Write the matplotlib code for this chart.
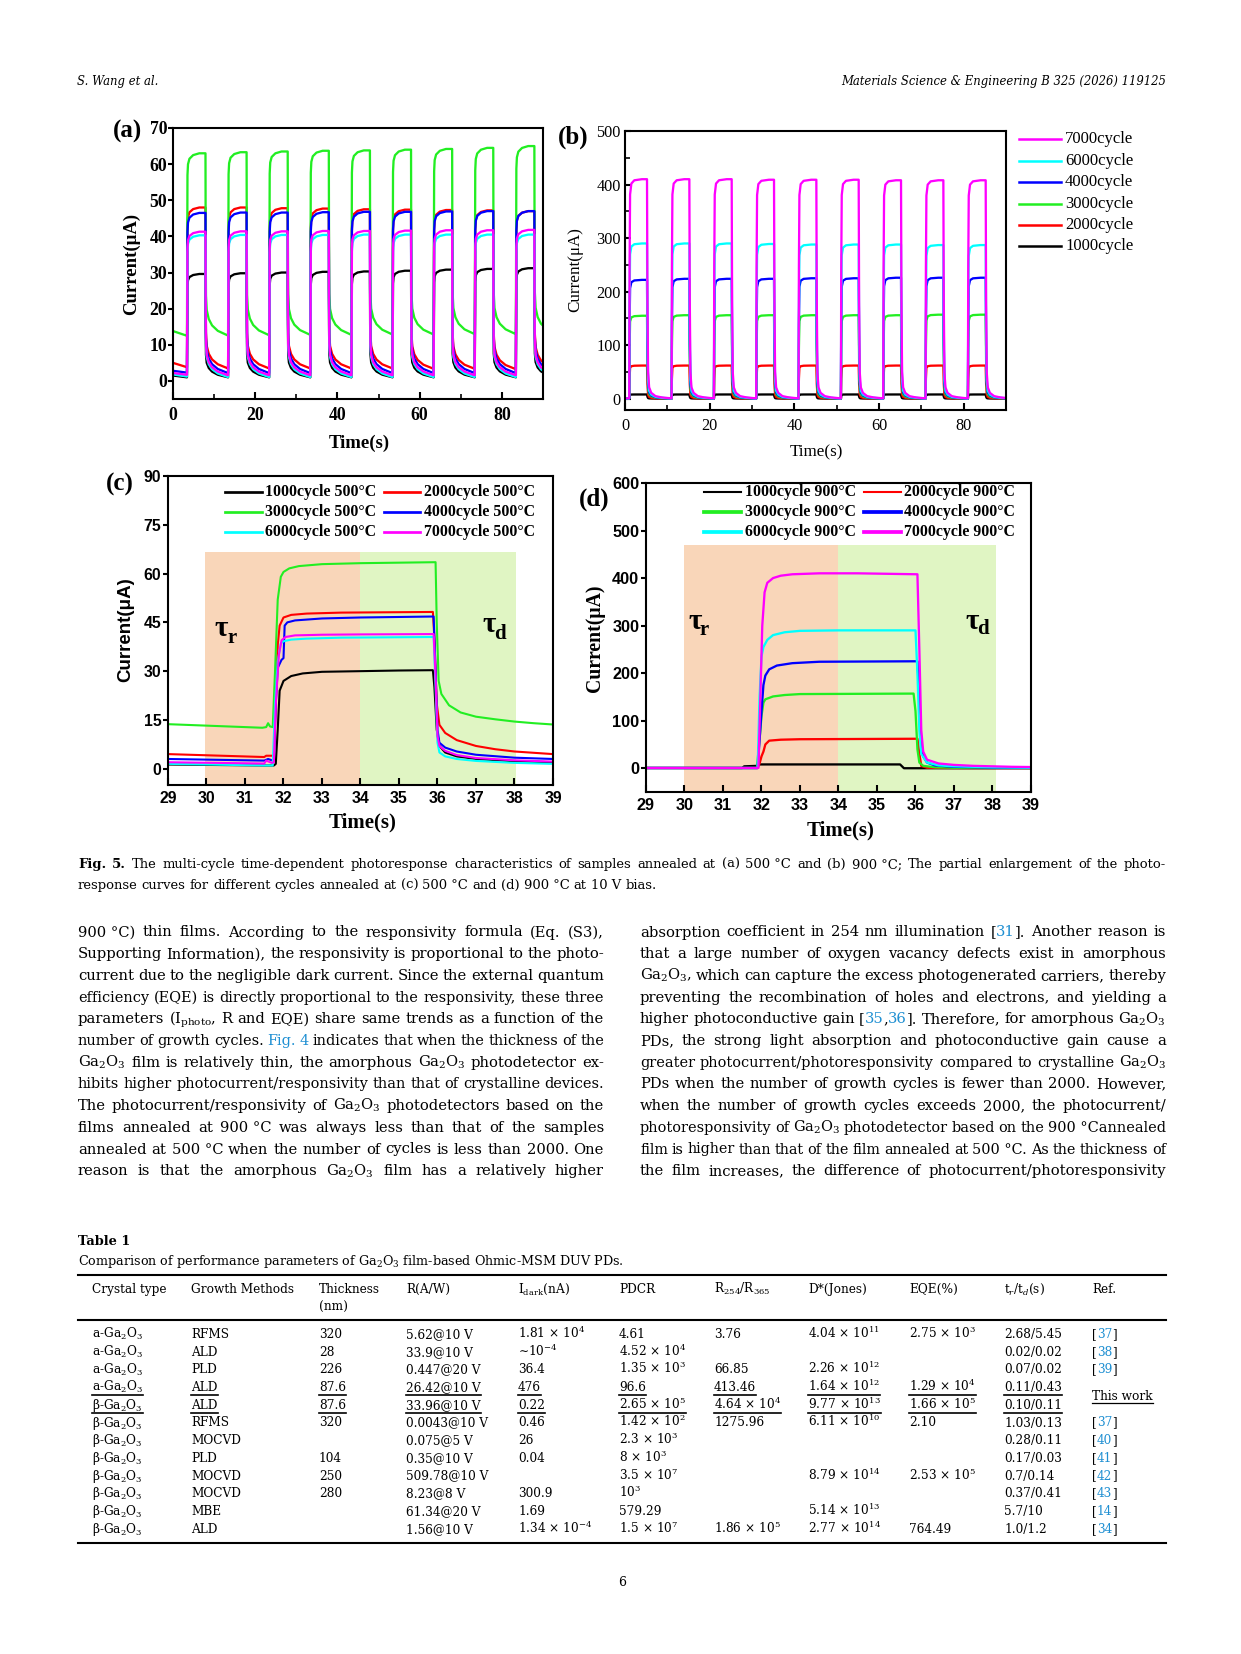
import re
import matplotlib
matplotlib.use('Agg')
import matplotlib.pyplot as plt
from matplotlib.lines import Line2D

plt.rcParams['mathtext.fontset'] = 'dejavuserif'
plt.rcParams['axes.linewidth'] = 1.0

W, H, DPI = 1241, 1654, 150
NB = '\u00a0'

# ============================ DATA ============================
CYCLES = ['1000cycle', '2000cycle', '3000cycle', '4000cycle', '6000cycle', '7000cycle']
COLORS = ['#000000', '#FF0000', '#22EE22', '#0000FF', '#00FFFF', '#FF00FF']

# ---- panel (a): 500 C, multi-cycle ----
A_T_ON = [3.4, 13.4, 23.4, 33.4, 43.4, 53.4, 63.4, 73.4, 83.4]
A_T_OFF = [7.9, 17.9, 27.9, 37.9, 47.9, 57.9, 67.9, 77.9, 87.9]
A_ON_1000 = [29.6, 29.8, 30.0, 30.2, 30.3, 30.5, 30.8, 31.0, 31.2]
A_ON_2000 = [48.0, 48.0, 47.8, 47.7, 47.5, 47.4, 47.3, 47.2, 47.0]
A_ON_3000 = [63.0, 63.3, 63.5, 63.7, 63.8, 64.0, 64.2, 64.5, 65.0]
A_ON_4000 = [46.5, 46.6, 46.6, 46.7, 46.8, 46.8, 46.9, 47.0, 47.0]
A_ON_6000 = [40.3, 40.4, 40.4, 40.4, 40.5, 40.5, 40.5, 40.5, 40.5]
A_ON_7000 = [41.3, 41.4, 41.4, 41.5, 41.5, 41.6, 41.7, 41.7, 41.8]
# start value, dark level before each of 9 pulses, final dark floor
A_DARK_1000 = [1.5, 1.0, 1.0, 1.0, 1.0, 1.0, 1.0, 1.0, 1.0, 1.0, 1.0]
A_DARK_2000 = [5.0, 3.8, 3.5, 3.5, 3.5, 3.5, 3.5, 3.4, 3.4, 3.3, 3.3]
A_DARK_3000 = [13.8, 12.5, 12.6, 12.7, 12.8, 12.8, 12.9, 12.9, 13.0, 13.0, 13.0]
A_DARK_4000 = [2.8, 2.3, 2.2, 2.2, 2.2, 2.2, 2.2, 2.2, 2.2, 2.2, 2.2]
A_DARK_6000 = [1.8, 1.2, 1.1, 1.1, 1.1, 1.1, 1.1, 1.1, 1.1, 1.1, 1.1]
A_DARK_7000 = [2.2, 1.7, 1.6, 1.6, 1.6, 1.6, 1.6, 1.6, 1.6, 1.6, 1.6]
A_RISE_T = [0.0, 0.06, 0.12, 0.25, 0.6, 1.5, 3.0]
A_RISE_F = [0.0, 0.55, 0.88, 0.94, 0.97, 0.99, 1.0]
A_FALL_T = [0.0, 0.05, 0.12, 0.3, 0.8, 1.6, 3.0, 5.4]
A_FALL_F = [1.0, 0.5, 0.22, 0.14, 0.09, 0.055, 0.025, 0.0]

# ---- panel (b): 900 C, multi-cycle ----
B_T_ON = [1.0, 11.0, 21.0, 31.0, 41.0, 51.0, 61.0, 71.0, 81.0]
B_T_OFF = [5.2, 15.2, 25.2, 35.2, 45.2, 55.2, 65.2, 75.2, 85.2]
B_ON_1000 = [8, 8, 8, 8, 8, 8, 8, 8, 8]
B_ON_2000 = [62, 62, 62, 62, 62, 62, 62, 62, 62]
B_ON_3000 = [155, 156, 156, 156, 156, 156, 156, 157, 157]
B_ON_4000 = [222, 224, 224, 224, 225, 225, 226, 226, 226]
B_ON_6000 = [290, 290, 290, 289, 288, 288, 288, 287, 287]
B_ON_7000 = [410, 410, 410, 409, 409, 409, 408, 408, 408]
B_DARK_1000 = [0.3, 0.3, 0.3, 0.3, 0.3, 0.3, 0.3, 0.3, 0.3, 0.3, 0.3]
B_DARK_2000 = [0.3, 0.3, 0.3, 0.3, 0.3, 0.3, 0.3, 0.3, 0.3, 0.3, 0.3]
B_DARK_3000 = [0.4, 0.4, 0.4, 0.4, 0.4, 0.4, 0.4, 0.4, 0.4, 0.4, 0.4]
B_DARK_4000 = [0.5, 0.5, 0.5, 0.5, 0.5, 0.5, 0.5, 0.5, 0.5, 0.5, 0.5]
B_DARK_6000 = [0.6, 0.6, 0.6, 0.6, 0.6, 0.6, 0.6, 0.6, 0.6, 0.6, 0.6]
B_DARK_7000 = [0.8, 0.8, 0.8, 0.8, 0.8, 0.8, 0.8, 0.8, 0.8, 0.8, 0.8]
B_RISE_T = [0.0, 0.08, 0.2, 0.5, 1.2, 3.0]
B_RISE_F = [0.0, 0.6, 0.93, 0.98, 0.995, 1.0]
B_FALL_T = [0.0, 0.1, 0.25, 0.5, 1.0, 2.0, 3.5, 5.7]
B_FALL_F = [1.0, 0.45, 0.12, 0.05, 0.025, 0.01, 0.004, 0.0]

# ---- panel (c): 500 C, single pulse ----
C_T_1000 = [29, 31.5, 31.75, 31.8, 31.85, 31.9, 32.0, 32.2, 32.5, 33.0, 34.0, 35.0, 35.88, 35.92, 35.98, 36.05, 36.2, 36.5, 37.0, 38.0, 39.0]
C_I_1000 = [1.3, 1.0, 1.0, 1.5, 12, 24, 27, 28.5, 29.3, 29.8, 30.0, 30.2, 30.3, 25, 12, 7, 5, 3.8, 3.0, 2.3, 2.0]
C_T_2000 = [29, 31.5, 31.55, 31.75, 31.8, 31.85, 31.9, 32.0, 32.2, 32.6, 33.5, 35.88, 35.92, 35.98, 36.05, 36.2, 36.5, 37.0, 37.5, 38.0, 39.0]
C_I_2000 = [4.5, 3.6, 4.0, 4.0, 20, 38, 44, 46.5, 47.3, 47.7, 48.0, 48.2, 40, 20, 13.5, 11, 8.8, 7.0, 6.0, 5.3, 4.5]
C_T_3000 = [29, 31.45, 31.55, 31.6, 31.65, 31.72, 31.78, 31.85, 31.93, 32.0, 32.15, 32.4, 33.0, 34.0, 35.95, 35.98, 36.03, 36.1, 36.3, 36.6, 37.0, 37.5, 38.0, 38.5, 39.0]
C_I_3000 = [13.7, 12.6, 12.8, 14.0, 13.0, 12.8, 30, 52, 59, 60.5, 61.6, 62.3, 62.9, 63.2, 63.5, 45, 27, 23, 19.5, 17.3, 16.0, 15.2, 14.5, 14.0, 13.6]
C_T_4000 = [29, 31.5, 31.6, 31.7, 31.75, 31.8, 31.85, 31.95, 32.0, 32.03, 32.1, 32.3, 33.0, 34.0, 35.9, 35.95, 36.0, 36.05, 36.2, 36.5, 37.0, 38.0, 39.0]
C_I_4000 = [3.0, 2.5, 3.0, 2.6, 2.8, 20, 31, 33.5, 34.0, 44, 45, 45.6, 46.2, 46.5, 46.8, 30, 12, 8.0, 6.5, 5.3, 4.3, 3.4, 3.0]
C_T_6000 = [29, 31.5, 31.72, 31.78, 31.85, 31.93, 32.0, 32.2, 32.6, 33.5, 35.9, 35.95, 36.0, 36.05, 36.2, 36.5, 37.0, 38.0, 39.0]
C_I_6000 = [1.5, 1.0, 1.0, 20, 33, 38.5, 39.2, 39.7, 40.0, 40.3, 40.5, 25, 8, 5.0, 3.8, 3.0, 2.4, 1.8, 1.5]
C_T_7000 = [29, 31.5, 31.55, 31.7, 31.75, 31.8, 31.88, 31.95, 32.05, 32.3, 33.0, 34.0, 35.9, 35.95, 36.0, 36.05, 36.2, 36.5, 37.0, 38.0, 39.0]
C_I_7000 = [2.0, 1.6, 2.5, 1.8, 2.0, 20, 35, 39.5, 40.5, 41.0, 41.2, 41.3, 41.4, 28, 10, 7.0, 5.5, 4.2, 3.3, 2.6, 2.2]

# ---- panel (d): 900 C, single pulse ----
D_T_1000 = [29, 31.5, 31.55, 31.9, 31.95, 35.6, 35.7, 39]
D_I_1000 = [0.5, 0.5, 4, 5, 8, 8, 0, 0]
D_T_2000 = [29, 31.9, 31.95, 32.0, 32.05, 32.1, 32.2, 32.5, 33.0, 36.05, 36.1, 36.15, 36.3, 37, 39]
D_I_2000 = [0.5, 0.5, 10, 25, 35, 50, 58, 60, 61, 62, 30, 5, 1, 0.5, 0.3]
D_T_3000 = [29, 31.88, 31.95, 32.0, 32.05, 32.1, 32.3, 32.6, 33.0, 35.95, 36.0, 36.05, 36.1, 36.2, 36.5, 37.0, 39]
D_I_3000 = [0.5, 0.5, 60, 110, 138, 145, 151, 154, 156, 157, 120, 40, 12, 5, 2, 1, 0.5]
D_T_4000 = [29, 31.9, 31.95, 32.0, 32.05, 32.1, 32.2, 32.4, 32.8, 33.5, 36.05, 36.1, 36.15, 36.2, 36.3, 36.5, 37, 38, 39]
D_I_4000 = [0.5, 0.5, 60, 120, 175, 195, 208, 216, 221, 224, 225, 150, 50, 25, 12, 6, 3, 1.5, 0.8]
D_T_6000 = [29, 31.9, 31.95, 32.0, 32.05, 32.15, 32.3, 32.6, 33.0, 34.0, 36.0, 36.05, 36.1, 36.15, 36.3, 36.6, 37.0, 38, 39]
D_I_6000 = [0.5, 0.5, 150, 235, 255, 270, 280, 286, 289, 290, 290, 200, 80, 30, 12, 6, 4, 2, 1]
D_T_7000 = [29, 31.92, 31.97, 32.02, 32.08, 32.15, 32.3, 32.5, 32.8, 33.5, 34.5, 36.05, 36.1, 36.15, 36.2, 36.3, 36.6, 37.0, 37.5, 38.5, 39]
D_I_7000 = [0.5, 0.5, 150, 300, 370, 390, 400, 405, 408, 410, 410, 408, 250, 80, 35, 18, 10, 7, 5, 3, 2.5]

SHADE_RISE_C = (29.95, 34.0, 66.5)
SHADE_DECAY_C = (34.0, 38.05, 66.5)
SHADE_RISE_D = (30.0, 34.0, 470)
SHADE_DECAY_D = (34.0, 38.08, 470)
ORANGE_BG = '#F9D6B9'
GREEN_BG = '#E0F5C3'
BLUE = '#1E8FD2'

# ---- text content ----
HEADER_LEFT = 'S. Wang et al.'
HEADER_RIGHT = 'Materials Science & Engineering B 325 (2026) 119125'
CAPTION_1 = ('~Fig.~ ~5.~ The multi-cycle time-dependent photoresponse characteristics of samples annealed at '
             '(a) 500' + NB + '°C and (b) 900' + NB + '°C; The partial enlargement of the photo-')
CAPTION_2 = ('response curves for different cycles annealed at (c) 500' + NB + '°C and (d) 900' + NB
             + '°C at 10' + NB + 'V bias.')
LEFT_COL = [
    '900' + NB + '°C) thin films. According to the responsivity formula (Eq. (S3),',
    'Supporting Information), the responsivity is proportional to the photo-',
    'current due to the negligible dark current. Since the external quantum',
    'efficiency (EQE) is directly proportional to the responsivity, these three',
    r'parameters (I$_{\mathrm{photo}}$, R and EQE) share same trends as a function of the',
    'number of growth cycles. #Fig.# #4# indicates that when the thickness of the',
    'Ga$_2$O$_3$ film is relatively thin, the amorphous Ga$_2$O$_3$ photodetector ex-',
    'hibits higher photocurrent/responsivity than that of crystalline devices.',
    'The photocurrent/responsivity of Ga$_2$O$_3$ photodetectors based on the',
    'films annealed at 900' + NB + '°C was always less than that of the samples',
    'annealed at 500' + NB + '°C when the number of cycles is less than 2000. One',
    'reason is that the amorphous Ga$_2$O$_3$ film has a relatively higher',
]
RIGHT_COL = [
    'absorption coefficient in 254 nm illumination [#31#]. Another reason is',
    'that a large number of oxygen vacancy defects exist in amorphous',
    'Ga$_2$O$_3$, which can capture the excess photogenerated carriers, thereby',
    'preventing the recombination of holes and electrons, and yielding a',
    'higher photoconductive gain [#35#,#36#]. Therefore, for amorphous Ga$_2$O$_3$',
    'PDs, the strong light absorption and photoconductive gain cause a',
    'greater photocurrent/photoresponsivity compared to crystalline Ga$_2$O$_3$',
    'PDs when the number of growth cycles is fewer than 2000. However,',
    'when the number of growth cycles exceeds 2000, the photocurrent/',
    'photoresponsivity of Ga$_2$O$_3$ photodetector based on the 900' + NB + '°Cannealed',
    'film is higher than that of the film annealed at 500' + NB + '°C. As the thickness of',
    'the film increases, the difference of photocurrent/photoresponsivity',
]
TABLE_TITLE = 'Table 1'
TABLE_SUB = 'Comparison of performance parameters of Ga$_2$O$_3$ film-based Ohmic-MSM DUV PDs.'
TABLE_HEAD_1 = ['Crystal type', 'Growth Methods', 'Thickness', 'R(A/W)', r'I$_{\mathrm{dark}}$(nA)', 'PDCR',
                r'R$_{254}$/R$_{365}$', 'D*(Jones)', 'EQE(%)', r't$_r$/t$_d$(s)', 'Ref.']
TABLE_HEAD_2 = ['', '', '(nm)', '', '', '', '', '', '', '', '']
X10 = r'$\times$' + NB + '10'
TABLE_ROWS = [
    ['a-Ga$_2$O$_3$', 'RFMS', '320', '5.62@10' + NB + 'V', '1.81' + NB + X10 + '$^{4}$', '4.61', '3.76', '4.04' + NB + X10 + '$^{11}$', '2.75' + NB + X10 + '$^{3}$', '2.68/5.45', '[#37#]'],
    ['a-Ga$_2$O$_3$', 'ALD', '28', '33.9@10' + NB + 'V', '\u223c10$^{-4}$', '4.52' + NB + X10 + '$^{4}$', '', '', '', '0.02/0.02', '[#38#]'],
    ['a-Ga$_2$O$_3$', 'PLD', '226', '0.447@20' + NB + 'V', '36.4', '1.35' + NB + X10 + '$^{3}$', '66.85', '2.26' + NB + X10 + '$^{12}$', '', '0.07/0.02', '[#39#]'],
    ['a-Ga$_2$O$_3$', 'ALD', '87.6', '26.42@10' + NB + 'V', '476', '96.6', '413.46', '1.64' + NB + X10 + '$^{12}$', '1.29' + NB + X10 + '$^{4}$', '0.11/0.43', ''],
    ['β-Ga$_2$O$_3$', 'ALD', '87.6', '33.96@10' + NB + 'V', '0.22', '2.65' + NB + X10 + '$^{5}$', '4.64' + NB + X10 + '$^{4}$', '9.77' + NB + X10 + '$^{13}$', '1.66' + NB + X10 + '$^{5}$', '0.10/0.11', ''],
    ['β-Ga$_2$O$_3$', 'RFMS', '320', '0.0043@10' + NB + 'V', '0.46', '1.42' + NB + X10 + '$^{2}$', '1275.96', '6.11' + NB + X10 + '$^{10}$', '2.10', '1.03/0.13', '[#37#]'],
    ['β-Ga$_2$O$_3$', 'MOCVD', '', '0.075@5' + NB + 'V', '26', '2.3' + NB + X10 + '$^{3}$', '', '', '', '0.28/0.11', '[#40#]'],
    ['β-Ga$_2$O$_3$', 'PLD', '104', '0.35@10' + NB + 'V', '0.04', '8' + NB + X10 + '$^{3}$', '', '', '', '0.17/0.03', '[#41#]'],
    ['β-Ga$_2$O$_3$', 'MOCVD', '250', '509.78@10' + NB + 'V', '', '3.5' + NB + X10 + '$^{7}$', '', '8.79' + NB + X10 + '$^{14}$', '2.53' + NB + X10 + '$^{5}$', '0.7/0.14', '[#42#]'],
    ['β-Ga$_2$O$_3$', 'MOCVD', '280', '8.23@8' + NB + 'V', '300.9', '10$^{3}$', '', '', '', '0.37/0.41', '[#43#]'],
    ['β-Ga$_2$O$_3$', 'MBE', '', '61.34@20' + NB + 'V', '1.69', '579.29', '', '5.14' + NB + X10 + '$^{13}$', '', '5.7/10', '[#14#]'],
    ['β-Ga$_2$O$_3$', 'ALD', '', '1.56@10' + NB + 'V', '1.34' + NB + X10 + '$^{-4}$', '1.5' + NB + X10 + '$^{7}$', '1.86' + NB + X10 + '$^{5}$', '2.77' + NB + X10 + '$^{14}$', '764.49', '1.0/1.2', '[#34#]'],
]
THIS_WORK_ROWS = [3, 4]
THIS_WORK = 'This' + NB + 'work'

# ============================ HELPERS ============================
fig = plt.figure(figsize=(W / DPI, H / DPI), dpi=DPI)
fig.patch.set_facecolor('white')
renderer = fig.canvas.get_renderer()

SERIF = 'Liberation Serif'
SANS = 'Liberation Sans'
BODY = 'DejaVu Serif'


def fx(x):
    return x / W


def fy(y):
    return 1 - y / H


def rect(l, t, r, b):
    return [l / W, 1 - b / H, (r - l) / W, (b - t) / H]


SEG_RE = re.compile(r'(#[^#]*#|~[^~]*~)')


def parse_word(w):
    segs = []
    for part in SEG_RE.split(w):
        if not part:
            continue
        if part.startswith('#'):
            segs.append((part[1:-1], BLUE, 'normal'))
        elif part.startswith('~'):
            segs.append((part[1:-1], 'black', 'bold'))
        else:
            segs.append((part, 'black', 'normal'))
    return segs


def measure(s, size, weight='normal', family=BODY, style='normal'):
    t = fig.text(0, 0, s, fontsize=size, fontweight=weight, family=family, fontstyle=style)
    w = t.get_window_extent(renderer).width
    t.remove()
    return w


def draw_line(x0, x1, yb, line, size, justify=True, family=BODY, style='normal'):
    words = [parse_word(w) for w in line.split(' ')]
    while True:
        widths = [[measure(s, size, wt, family, style) for (s, c, wt) in w] for w in words]
        total = sum(sum(ws) for ws in widths)
        space = measure('a a', size, family=family) - measure('aa', size, family=family)
        if not justify or total + 0.75 * space * (len(words) - 1) <= (x1 - x0) or size < 3:
            break
        size *= 0.985
    if justify and len(words) > 1:
        gap = (x1 - x0 - total) / (len(words) - 1)
    else:
        gap = space
    x = x0
    for w, ws in zip(words, widths):
        for (s, c, wt), sw in zip(w, ws):
            fig.text(fx(x), fy(yb), s, fontsize=size, fontweight=wt, color=c, family=family,
                     fontstyle=style, ha='left', va='baseline')
            x += sw
        x += gap
    return x - gap - x0


def pulse_curve(t_on, t_off, on, dark, rise_t, rise_f, fall_t, fall_f, t_start=0.0):
    ts = [t_start]
    ys = [dark[0]]
    n = len(t_on)
    for k in range(n):
        d, top, dn = dark[k + 1], on[k], dark[k + 2]
        ts.append(t_on[k]); ys.append(d)
        for rt, rf in zip(rise_t[1:], rise_f[1:]):
            if t_on[k] + rt < t_off[k]:
                ts.append(t_on[k] + rt); ys.append(d + (top - d) * rf)
        ts.append(t_off[k]); ys.append(top)
        nxt = t_on[k + 1] if k + 1 < n else 1e9
        for ft, ff in zip(fall_t[1:], fall_f[1:]):
            if t_off[k] + ft < nxt:
                ts.append(t_off[k] + ft); ys.append(dn + (top - dn) * ff)
    return ts, ys


def style_ticks(ax, family, weight, size, ydir='out', ylen=2.6, ypad=0.6, xpad=4):
    ax.tick_params(axis='x', which='major', direction='in', length=3.5, width=1.0, labelsize=size, pad=xpad)
    ax.tick_params(axis='y', which='major', direction=ydir, length=ylen, width=1.0, labelsize=size, pad=ypad)
    ax.tick_params(which='minor', direction='in', length=2.2, width=0.8)
    for lab in ax.get_xticklabels() + ax.get_yticklabels():
        lab.set_fontfamily(family)
        lab.set_fontweight(weight)


def legend_entry(x0, x1, xt, y, color, label, size, weight, lw=1.2):
    fig.add_artist(Line2D([fx(x0), fx(x1)], [fy(y), fy(y)], transform=fig.transFigure, color=color, lw=lw))
    fig.text(fx(xt), fy(y), label, fontsize=size, fontweight=weight, family=SERIF, ha='left', va='center')


# ============================ PAGE HEADER ============================
fig.text(fx(77), fy(81), HEADER_LEFT, fontsize=5.6, fontstyle='italic', family=BODY, ha='left', va='center')
fig.text(fx(1166), fy(81), HEADER_RIGHT, fontsize=5.6, fontstyle='italic', family=BODY, ha='right', va='center')

# ============================ PANEL (a) ============================
A_ON = [A_ON_1000, A_ON_2000, A_ON_3000, A_ON_4000, A_ON_6000, A_ON_7000]
A_DARK = [A_DARK_1000, A_DARK_2000, A_DARK_3000, A_DARK_4000, A_DARK_6000, A_DARK_7000]
axA = fig.add_axes(rect(173, 128, 543, 399))
for on, dk, col in zip(A_ON, A_DARK, COLORS):
    t, y = pulse_curve(A_T_ON, A_T_OFF, on, dk, A_RISE_T, A_RISE_F, A_FALL_T, A_FALL_F)
    axA.plot(t, y, color=col, lw=1.1)
axA.set_xlim(0, 90)
axA.set_ylim(-5, 70)
axA.set_xticks([0, 20, 40, 60, 80])
axA.set_xticks([10, 30, 50, 70], minor=True)
axA.set_yticks([0, 10, 20, 30, 40, 50, 60, 70])
style_ticks(axA, SERIF, 'bold', 8.5, ydir='out', ylen=2.4, ypad=0.4)
fig.text(fx(131), fy(264), 'Current(μA)', rotation=90, fontsize=9, fontweight='bold', family=SERIF, ha='center', va='center')
fig.text(fx(359), fy(443), 'Time(s)', fontsize=9, fontweight='bold', family=SERIF, ha='center', va='center')
fig.text(fx(127), fy(131), '(a)', fontsize=12, fontweight='bold', family=SERIF, ha='center', va='center')

# ============================ PANEL (b) ============================
B_ON = [B_ON_1000, B_ON_2000, B_ON_3000, B_ON_4000, B_ON_6000, B_ON_7000]
B_DARK = [B_DARK_1000, B_DARK_2000, B_DARK_3000, B_DARK_4000, B_DARK_6000, B_DARK_7000]
axB = fig.add_axes(rect(625, 131, 1006, 410))
for on, dk, col in zip(B_ON, B_DARK, COLORS):
    t, y = pulse_curve(B_T_ON, B_T_OFF, on, dk, B_RISE_T, B_RISE_F, B_FALL_T, B_FALL_F)
    axB.plot(t, y, color=col, lw=1.1)
axB.set_xlim(0, 90)
axB.set_ylim(-21, 500)
axB.set_xticks([0, 20, 40, 60, 80])
axB.set_xticks([10, 30, 50, 70], minor=True)
axB.set_yticks([0, 100, 200, 300, 400, 500])
axB.set_yticks([50, 150, 250, 350, 450], minor=True)
style_ticks(axB, SERIF, 'normal', 7.8, ydir='in', ylen=3.0, ypad=2.0)
fig.text(fx(575), fy(270), 'Current(μA)', rotation=90, fontsize=8.2, family=SERIF, ha='center', va='center')
fig.text(fx(816), fy(452), 'Time(s)', fontsize=8.2, family=SERIF, ha='center', va='center')
fig.text(fx(573), fy(137), '(b)', fontsize=12, fontweight='bold', family=SERIF, ha='center', va='center')
B_LEG_Y = [139, 161, 182, 204, 225, 246]
for i, yy in zip([5, 4, 3, 2, 1, 0], B_LEG_Y):
    legend_entry(1019, 1061, 1065, yy, COLORS[i], CYCLES[i], 8.0, 'normal', lw=1.2)

# ============================ PANEL (c) ============================
C_T = [C_T_1000, C_T_2000, C_T_3000, C_T_4000, C_T_6000, C_T_7000]
C_I = [C_I_1000, C_I_2000, C_I_3000, C_I_4000, C_I_6000, C_I_7000]
axC = fig.add_axes(rect(168, 476, 553, 785))
for (x0, x1, top), colr in zip([SHADE_RISE_C, SHADE_DECAY_C], [ORANGE_BG, GREEN_BG]):
    axC.fill_between([x0, x1], [-5, -5], [top, top], color=colr, lw=0, zorder=0)
for t, y, col in zip(C_T, C_I, COLORS):
    axC.plot(t, y, color=col, lw=1.0, zorder=2)
axC.set_xlim(29, 39)
axC.set_ylim(-5, 90)
axC.set_xticks(list(range(29, 40)))
axC.set_yticks([0, 15, 30, 45, 60, 75, 90])
style_ticks(axC, SANS, 'bold', 7.6, ydir='out', ylen=2.6, ypad=0.6, xpad=3)
axC.text(30.39, 43.2, 'τ', fontsize=14, fontweight='bold', family=SERIF, ha='center', va='center')
axC.text(30.66, 40.3, 'r', fontsize=10, fontweight='bold', family=SERIF, ha='center', va='center')
axC.text(37.35, 44.2, 'τ', fontsize=14, fontweight='bold', family=SERIF, ha='center', va='center')
axC.text(37.63, 41.5, 'd', fontsize=10, fontweight='bold', family=SERIF, ha='center', va='center')
fig.text(fx(126), fy(630), 'Current(μA)', rotation=90, fontsize=9, fontweight='bold', family=SANS, ha='center', va='center')
fig.text(fx(363), fy(822), 'Time(s)', fontsize=10, fontweight='bold', family=SERIF, ha='center', va='center')
fig.text(fx(120), fy(484), '(c)', fontsize=12, fontweight='bold', family=SERIF, ha='center', va='center')
LEG_ROWS = [(0, 1), (2, 3), (4, 5)]
LEG_Y = [492, 512, 532]
for (i, j), yy in zip(LEG_ROWS, LEG_Y):
    legend_entry(225, 262, 265, yy, COLORS[i], CYCLES[i] + ' 500°C', 7.6, 'bold', lw=1.3)
    legend_entry(384, 420, 424, yy, COLORS[j], CYCLES[j] + ' 500°C', 7.6, 'bold', lw=1.3)

# ============================ PANEL (d) ============================
D_T = [D_T_1000, D_T_2000, D_T_3000, D_T_4000, D_T_6000, D_T_7000]
D_I = [D_I_1000, D_I_2000, D_I_3000, D_I_4000, D_I_6000, D_I_7000]
axD = fig.add_axes(rect(646, 483, 1031, 792))
for (x0, x1, top), colr in zip([SHADE_RISE_D, SHADE_DECAY_D], [ORANGE_BG, GREEN_BG]):
    axD.fill_between([x0, x1], [-50, -50], [top, top], color=colr, lw=0, zorder=0)
for t, y, col in zip(D_T, D_I, COLORS):
    axD.plot(t, y, color=col, lw=1.1, zorder=2)
axD.set_xlim(29, 39)
axD.set_ylim(-50, 600)
axD.set_xticks(list(range(29, 40)))
axD.set_yticks([0, 100, 200, 300, 400, 500, 600])
style_ticks(axD, SANS, 'bold', 7.8, ydir='out', ylen=2.6, ypad=0.6, xpad=3)
axD.text(30.27, 309, 'τ', fontsize=14, fontweight='bold', family=SERIF, ha='center', va='center')
axD.text(30.5, 290, 'r', fontsize=10, fontweight='bold', family=SERIF, ha='center', va='center')
axD.text(37.47, 309, 'τ', fontsize=14, fontweight='bold', family=SERIF, ha='center', va='center')
axD.text(37.76, 292, 'd', fontsize=10, fontweight='bold', family=SERIF, ha='center', va='center')
fig.text(fx(595), fy(638), 'Current(μA)', rotation=90, fontsize=9.5, fontweight='bold', family=SERIF, ha='center', va='center')
fig.text(fx(841), fy(830), 'Time(s)', fontsize=10, fontweight='bold', family=SERIF, ha='center', va='center')
fig.text(fx(594), fy(499), '(d)', fontsize=12, fontweight='bold', family=SERIF, ha='center', va='center')
D_LEG_LW = [1.0, 1.0, 1.8, 1.8, 1.8, 1.8]
for (i, j), yy in zip(LEG_ROWS, LEG_Y):
    legend_entry(704, 741, 745, yy, COLORS[i], CYCLES[i] + ' 900°C', 7.6, 'bold', lw=D_LEG_LW[i])
    legend_entry(864, 901, 904, yy, COLORS[j], CYCLES[j] + ' 900°C', 7.6, 'bold', lw=D_LEG_LW[j])

# ============================ CAPTION ============================
CAP_SIZE = 6.3
draw_line(78, 1166, 868, CAPTION_1, CAP_SIZE, justify=True)
draw_line(78, 1166, 889, CAPTION_2, CAP_SIZE, justify=False)

# ============================ BODY TEXT ============================
BODY_SIZE = 7.1
for i, ln in enumerate(LEFT_COL):
    draw_line(78, 604, 936.5 + 21.7 * i, ln, BODY_SIZE, justify=True)
for i, ln in enumerate(RIGHT_COL):
    draw_line(640, 1166, 936.5 + 21.7 * i, ln, BODY_SIZE, justify=True)

# ============================ TABLE ============================
TAB_SIZE = 5.8
fig.text(fx(78), fy(1245), TABLE_TITLE, fontsize=6.2, fontweight='bold', family=BODY, ha='left', va='baseline')
fig.text(fx(78), fy(1265.5), TABLE_SUB, fontsize=6.1, family=BODY, ha='left', va='baseline')
for yy in [1275, 1320, 1543]:
    fig.add_artist(Line2D([fx(78), fx(1166)], [fy(yy), fy(yy)], transform=fig.transFigure, color='black', lw=1.0))
COL_X = [92, 191, 319, 406, 518, 619, 714, 808, 909, 1004, 1092]
for cx, h1, h2 in zip(COL_X, TABLE_HEAD_1, TABLE_HEAD_2):
    fig.text(fx(cx), fy(1293), h1, fontsize=TAB_SIZE, family=BODY, ha='left', va='baseline')
    if h2:
        fig.text(fx(cx), fy(1311), h2, fontsize=TAB_SIZE, family=BODY, ha='left', va='baseline')
ROW_Y0, ROW_DY = 1338, 17.7
for r, row in enumerate(TABLE_ROWS):
    yb = ROW_Y0 + ROW_DY * r
    for c, (cx, cell) in enumerate(zip(COL_X, row)):
        if not cell:
            continue
        wdt = draw_line(cx, cx + 100, yb, cell, TAB_SIZE, justify=False)
        if r in THIS_WORK_ROWS:
            fig.add_artist(Line2D([fx(cx), fx(cx + wdt)], [fy(yb + 4), fy(yb + 4)],
                                  transform=fig.transFigure, color='black', lw=0.8))
yb_tw = ROW_Y0 + ROW_DY * (THIS_WORK_ROWS[0] + THIS_WORK_ROWS[1]) / 2
wtw = draw_line(COL_X[-1], COL_X[-1] + 80, yb_tw, THIS_WORK, TAB_SIZE, justify=False)
fig.add_artist(Line2D([fx(COL_X[-1]), fx(COL_X[-1] + wtw)], [fy(yb_tw + 3), fy(yb_tw + 3)],
                      transform=fig.transFigure, color='black', lw=0.6))

# page number
fig.text(fx(622), fy(1583), '6', fontsize=6, family=BODY, ha='center', va='center')

fig.savefig('out.png', dpi=DPI, facecolor='white')
